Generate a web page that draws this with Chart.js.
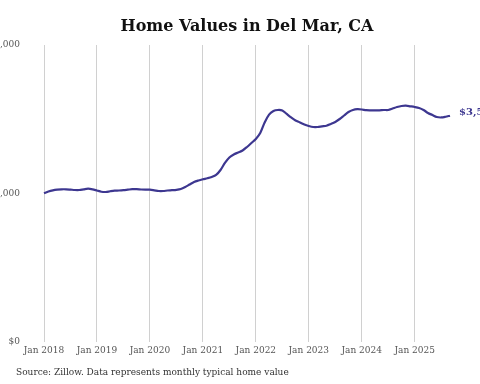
<!DOCTYPE html>
<html>
<head>
<meta charset="utf-8">
<script src="https://cdn.jsdelivr.net/npm/chart.js@4"></script>
<style>
  html, body { margin: 0; padding: 0; background: #fff; }
  #wrap { position: relative; width: 480px; height: 384px; }
</style>
</head>
<body>
<div id="wrap"><canvas id="chart"></canvas></div>
<script>
// Zillow typical home value, Del Mar CA, monthly Jan 2018 - Sep 2025
const startYear = 2018;
const homeValues = [
  2343000, 2371000, 2390000, 2401000, 2406000, 2406000, 2401000, 2395000, 2395000, 2406000, 2416000, 2406000,
  2387000, 2368000, 2364000, 2375000, 2384000, 2387000, 2392000, 2400000, 2408000, 2408000, 2403000, 2400000,
  2400000, 2390000, 2379000, 2379000, 2387000, 2392000, 2398000, 2411000, 2442000, 2482000, 2521000, 2545000,
  2564000, 2580000, 2600000, 2632000, 2710000, 2821000, 2907000, 2955000, 2986000, 3018000, 3073000, 3136000,
  3199000, 3293000, 3459000, 3582000, 3640000, 3656000, 3648000, 3593000, 3538000, 3490000, 3459000, 3427000,
  3404000, 3388000, 3388000, 3399000, 3408000, 3435000, 3467000, 3514000, 3569000, 3624000, 3656000, 3668000,
  3664000, 3653000, 3651000, 3651000, 3651000, 3656000, 3656000, 3679000, 3703000, 3719000, 3724000, 3714000,
  3703000, 3687000, 3656000, 3609000, 3577000, 3545000, 3538000, 3549000, 3566000
];
const yTicks = [0, 2340000, 4680000];
const monthNames = ["Jan","Feb","Mar","Apr","May","Jun","Jul","Aug","Sep","Oct","Nov","Dec"];

const months = homeValues.map((v, i) => monthNames[i % 12] + " " + (startYear + Math.floor(i / 12)));

const fmt = v => "$" + Math.round(v).toLocaleString("en-US");
const serif = "'DejaVu Serif', serif";
const lineColor = "#3d3790";

// title centred over the plot area + source note + end label
const extras = {
  id: "extras",
  afterDraw(chart) {
    const c = chart.ctx, a = chart.chartArea;
    c.save();
    c.fillStyle = "#111";
    c.font = "bold 16px " + serif;
    c.textAlign = "center";
    c.textBaseline = "middle";
    c.fillText("Home Values in Del Mar, CA", (a.left + a.right) / 2, 27);

    c.fillStyle = "#333";
    c.font = "9px " + serif;
    c.textAlign = "left";
    c.fillText("Source: Zillow. Data represents monthly typical home value", 16, 373);

    const pts = chart.getDatasetMeta(0).data;
    const last = pts[pts.length - 1];
    c.fillStyle = lineColor;
    c.font = "bold 10px " + serif;
    c.fillText(fmt(homeValues[homeValues.length - 1]), last.x + 9, last.y - 3);
    c.restore();
  }
};

new Chart(document.getElementById("chart"), {
  type: "line",
  data: {
    labels: months,
    datasets: [{
      data: homeValues,
      borderColor: lineColor,
      borderWidth: 2.2,
      pointRadius: 0,
      tension: 0.3,
      fill: false
    }]
  },
  options: {
    responsive: true,
    maintainAspectRatio: false,
    animation: false,
    layout: { padding: { top: 45, right: 30, bottom: 0, left: 0 } },
    plugins: { legend: { display: false }, tooltip: { enabled: false } },
    scales: {
      x: {
        offset: false,
        border: { display: false },
        grid: { color: "#d0d0d0", lineWidth: 1, drawTicks: false },
        afterFit: s => { s.height = 42; },
        ticks: {
          autoSkip: false,
          maxRotation: 0,
          padding: 3,
          color: "#555",
          font: { family: serif, size: 9 },
          callback: (v, i) => (i % 12 === 0 ? months[i] : null)
        }
      },
      y: {
        min: 0,
        max: yTicks[yTicks.length - 1],
        border: { display: false },
        grid: { display: false, drawTicks: false },
        afterFit: s => { s.width = 44; },
        afterBuildTicks: s => { s.ticks = yTicks.map(v => ({ value: v })); },
        ticks: {
          padding: 24,
          color: "#555",
          font: { family: serif, size: 9 },
          callback: v => fmt(v)
        }
      }
    }
  },
  plugins: [extras]
});
</script>
</body>
</html>
